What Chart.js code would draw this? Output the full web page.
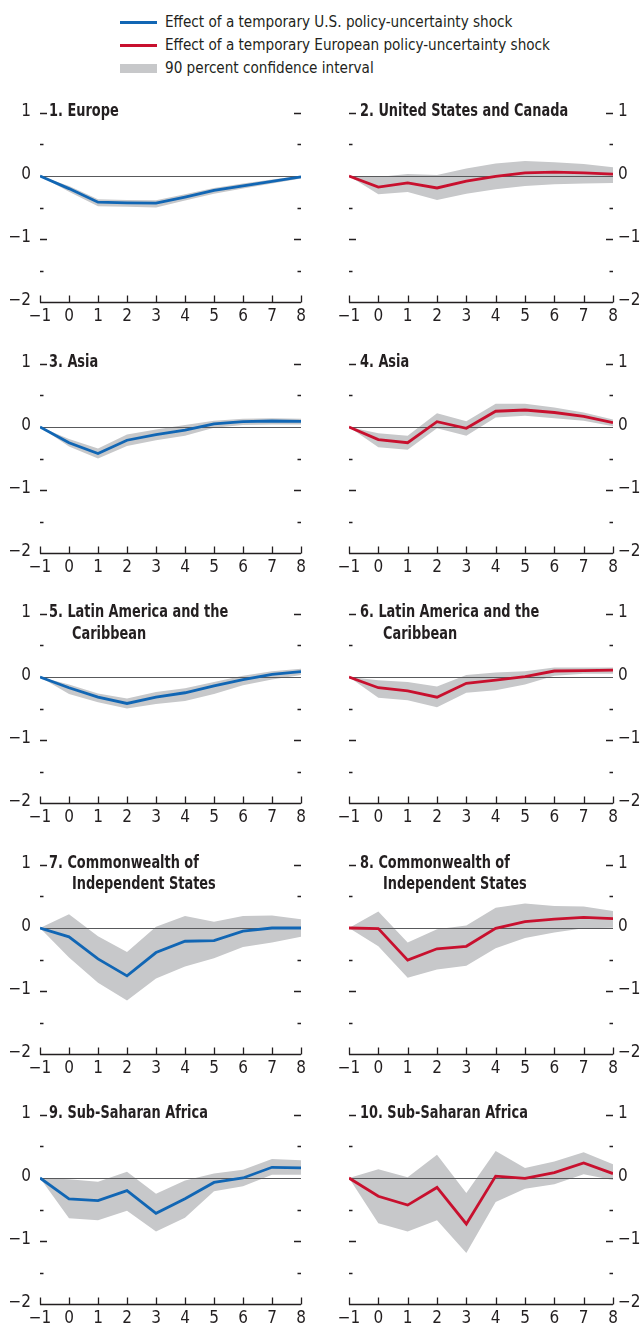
<!DOCTYPE html>
<html>
<head>
<meta charset="utf-8">
<script src="https://cdn.jsdelivr.net/npm/chart.js@4.4.1/dist/chart.umd.min.js"></script>
<style>
   body { margin:0; background:#fff; }
   #page { position:relative; width:641px; height:1330px; font-family:'DejaVu Sans Condensed','DejaVu Sans',sans-serif; color:#231f20; }
   canvas { position:absolute; }
   .leg { position:absolute; left:165px; font-size:16px; line-height:20px; white-space:nowrap; transform:scaleX(0.945); transform-origin:0 0; }
   .sw { position:absolute; left:120px; width:37px; }
   .ttl { position:absolute; font-weight:bold; font-size:17.5px; line-height:21.5px; white-space:nowrap; transform:scaleX(0.82); transform-origin:0 0; }
   .ttl .l2 { display:block; padding-left:28px; }
</style>
</head>
<body>
<div id="page">
   <div class="sw" style="top:21px;height:3px;background:#1166b4;"></div>
   <div class="leg" style="top:12px;">Effect of a temporary U.S. policy-uncertainty shock</div>
   <div class="sw" style="top:44px;height:3px;background:#c8102e;"></div>
   <div class="leg" style="top:35px;">Effect of a temporary European policy-uncertainty shock</div>
   <div class="sw" style="top:64px;height:9px;background:#c7c8ca;"></div>
   <div class="leg" style="top:58px;">90 percent confidence interval</div>
</div>
<script>
const horizons = [-1, 0, 1, 2, 3, 4, 5, 6, 7, 8];
const yTickLabels = [1, 0, -1, -2];

const titles = [
   ["1. Europe"], ["2. United States and Canada"],
   ["3. Asia"], ["4. Asia"],
   ["5. Latin America and the", "Caribbean"], ["6. Latin America and the", "Caribbean"],
   ["7. Commonwealth of", "Independent States"], ["8. Commonwealth of", "Independent States"],
   ["9. Sub-Saharan Africa"], ["10. Sub-Saharan Africa"]
];

// 1. Europe (U.S. shock)
const europeUS      = [0, -0.20, -0.415, -0.425, -0.43, -0.335, -0.23, -0.155, -0.085, -0.015];
const europeUSHi    = [0, -0.16, -0.37, -0.38, -0.385, -0.29, -0.19, -0.12, -0.055, 0.005];
const europeUSLo    = [0, -0.25, -0.48, -0.49, -0.50, -0.39, -0.28, -0.20, -0.12, -0.04];
// 2. United States and Canada (European shock)
const usCanEU       = [0, -0.175, -0.11, -0.19, -0.08, -0.005, 0.05, 0.06, 0.05, 0.03];
const usCanEUHi     = [0, -0.015, 0.03, 0.015, 0.12, 0.20, 0.24, 0.22, 0.19, 0.14];
const usCanEULo     = [0, -0.29, -0.255, -0.38, -0.28, -0.21, -0.16, -0.13, -0.12, -0.11];
// 3. Asia (U.S. shock)
const asiaUS        = [0, -0.25, -0.42, -0.21, -0.12, -0.05, 0.05, 0.085, 0.095, 0.09];
const asiaUSHi      = [0, -0.19, -0.34, -0.12, -0.04, 0.03, 0.10, 0.13, 0.14, 0.13];
const asiaUSLo      = [0, -0.31, -0.50, -0.30, -0.21, -0.14, -0.01, 0.03, 0.04, 0.04];
// 4. Asia (European shock)
const asiaEU        = [0, -0.20, -0.25, 0.085, -0.02, 0.25, 0.27, 0.23, 0.17, 0.07];
const asiaEUHi      = [0, -0.10, -0.14, 0.22, 0.09, 0.37, 0.37, 0.31, 0.23, 0.12];
const asiaEULo      = [0, -0.32, -0.36, -0.02, -0.14, 0.15, 0.18, 0.14, 0.10, 0.01];
// 5. Latin America and the Caribbean (U.S. shock)
const latamUS       = [0, -0.17, -0.32, -0.42, -0.32, -0.25, -0.14, -0.04, 0.04, 0.085];
const latamUSHi     = [0, -0.12, -0.26, -0.34, -0.24, -0.18, -0.08, 0.02, 0.09, 0.13];
const latamUSLo     = [0, -0.27, -0.40, -0.50, -0.43, -0.38, -0.27, -0.13, -0.04, 0.03];
// 6. Latin America and the Caribbean (European shock)
const latamEU       = [0, -0.17, -0.22, -0.32, -0.10, -0.05, 0.005, 0.095, 0.10, 0.11];
const latamEUHi     = [0, -0.05, -0.08, -0.15, 0.03, 0.07, 0.09, 0.15, 0.15, 0.15];
const latamEULo     = [0, -0.33, -0.37, -0.48, -0.25, -0.21, -0.12, 0.02, 0.05, 0.05];
// 7. Commonwealth of Independent States (U.S. shock)
const cisUS         = [0, -0.14, -0.49, -0.76, -0.39, -0.21, -0.20, -0.05, 0.00, 0.00];
const cisUSHi       = [0, 0.22, -0.13, -0.38, 0.02, 0.19, 0.10, 0.19, 0.20, 0.14];
const cisUSLo       = [0, -0.47, -0.87, -1.15, -0.80, -0.61, -0.48, -0.30, -0.23, -0.14];
// 8. Commonwealth of Independent States (European shock)
const cisEU         = [0, -0.01, -0.51, -0.33, -0.29, -0.005, 0.10, 0.14, 0.17, 0.15];
const cisEUHi       = [0, 0.26, -0.23, -0.02, 0.04, 0.32, 0.39, 0.35, 0.34, 0.27];
const cisEULo       = [0, -0.29, -0.79, -0.66, -0.60, -0.32, -0.16, -0.07, -0.005, 0.005];
// 9. Sub-Saharan Africa (U.S. shock)
const ssaUS         = [0, -0.33, -0.36, -0.20, -0.56, -0.33, -0.07, 0.00, 0.17, 0.16];
const ssaUSHi       = [0, -0.02, -0.06, 0.10, -0.25, -0.04, 0.07, 0.13, 0.30, 0.28];
const ssaUSLo       = [0, -0.64, -0.67, -0.52, -0.85, -0.63, -0.21, -0.13, 0.05, 0.05];
// 10. Sub-Saharan Africa (European shock)
const ssaEU         = [0, -0.29, -0.43, -0.15, -0.73, 0.03, -0.005, 0.085, 0.24, 0.07];
const ssaEUHi       = [0, 0.14, 0.01, 0.37, -0.24, 0.43, 0.16, 0.26, 0.41, 0.22];
const ssaEULo       = [0, -0.72, -0.85, -0.67, -1.19, -0.38, -0.17, -0.10, 0.06, -0.03];

const panels = [
   [europeUS, europeUSHi, europeUSLo], [usCanEU, usCanEUHi, usCanEULo],
   [asiaUS, asiaUSHi, asiaUSLo], [asiaEU, asiaEUHi, asiaEULo],
   [latamUS, latamUSHi, latamUSLo], [latamEU, latamEUHi, latamEULo],
   [cisUS, cisUSHi, cisUSLo], [cisEU, cisEUHi, cisEULo],
   [ssaUS, ssaUSHi, ssaUSLo], [ssaEU, ssaEUHi, ssaEULo]
];

const blue = '#1166b4', red = '#c8102e', band = '#c7c8ca', ink = '#231f20';
const fontFam = "'DejaVu Sans Condensed','DejaVu Sans',sans-serif";
const minus = v => v < 0 ? '\u2212' + Math.abs(v) : String(v);

// zero line under the line, axis + ticks + labels on top
const framePlugin = {
   id: 'frame',
   beforeDatasetDraw(chart, args) {
      if (args.index !== 2) return;
      const {ctx, chartArea: a, scales: {y}} = chart;
      const y0 = Math.round(y.getPixelForValue(0)) + 0.5;
      ctx.save();
      ctx.strokeStyle = '#58595b';
      ctx.lineWidth = 1.2;
      ctx.beginPath(); ctx.moveTo(a.left, y0); ctx.lineTo(a.right, y0); ctx.stroke();
      ctx.restore();
   },
   afterDraw(chart) {
      const {ctx, chartArea: a, scales: {x, y}} = chart;
      const side = chart.options.plugins.frame.side;
      ctx.save();
      ctx.strokeStyle = ink;
      ctx.fillStyle = ink;
      ctx.lineWidth = 1.3;
      // x axis line and upward ticks
      const yb = Math.round(y.getPixelForValue(-2)) + 0.5;
      ctx.beginPath(); ctx.moveTo(a.left, yb); ctx.lineTo(a.right, yb); ctx.stroke();
      ctx.beginPath();
      for (const h of horizons) {
         const px = Math.round(x.getPixelForValue(h)) + 0.5;
         ctx.moveTo(px, yb); ctx.lineTo(px, yb - 7);
      }
      ctx.stroke();
      // y ticks on both edges
      ctx.beginPath();
      for (const v of [1, 0.5, -0.5, -1, -1.5]) {
         const py = Math.round(y.getPixelForValue(v)) + 0.5;
         const len = Number.isInteger(v) ? 7 : 3.5;
         ctx.moveTo(a.left, py); ctx.lineTo(a.left + len, py);
         ctx.moveTo(a.right, py); ctx.lineTo(a.right - len, py);
      }
      ctx.stroke();
      // labels
      ctx.font = `17px ${fontFam}`;
      ctx.textBaseline = 'middle';
      for (const v of yTickLabels) {
         const py = y.getPixelForValue(v) - 1;
         if (side === 'left') { ctx.textAlign = 'right'; ctx.fillText(minus(v), a.left - 9, py); }
         else { ctx.textAlign = 'left'; ctx.fillText(minus(v), a.right + 5, py); }
      }
      ctx.textAlign = 'center';
      ctx.textBaseline = 'top';
      for (const h of horizons) ctx.fillText(minus(h), x.getPixelForValue(h), a.bottom + 6);
      ctx.restore();
   }
};

const page = document.getElementById('page');
const rowZero = [176, 426.5, 677, 927.5, 1178];

panels.forEach((p, i) => {
   const row = Math.floor(i / 2), left = i % 2 === 0;
   const zeroY = rowZero[row];
   const top = zeroY - 63 - 20;
   const canvas = document.createElement('canvas');
   canvas.width = left ? 320 : 321;
   canvas.height = 239;
   canvas.style.left = (left ? 0 : 320) + 'px';
   canvas.style.top = top + 'px';
   page.appendChild(canvas);

   const ttl = document.createElement('div');
   ttl.className = 'ttl';
   ttl.style.left = (left ? 49 : 360) + 'px';
   ttl.style.top = (zeroY - 76) + 'px';
   ttl.innerHTML = titles[i].map((t, k) => k ? `<span class="l2">${t}</span>` : t).join('');
   page.appendChild(ttl);

   const toPts = arr => arr.map((v, k) => ({x: horizons[k], y: v}));
   new Chart(canvas.getContext('2d'), {
      type: 'line',
      data: {
         datasets: [
            {data: toPts(p[1]), borderWidth: 0, pointRadius: 0, fill: '+1', backgroundColor: band, tension: 0, order: 2},
            {data: toPts(p[2]), borderWidth: 0, pointRadius: 0, fill: false, tension: 0, order: 2},
            {data: toPts(p[0]), borderColor: left ? blue : red, borderWidth: 2.8, pointRadius: 0, fill: false, tension: 0, order: 0}
         ]
      },
      options: {
         responsive: false,
         animation: false,
         devicePixelRatio: 1,
         layout: {padding: left ? {left: 40, right: 19, top: 20, bottom: 30} : {left: 29, right: 28, top: 20, bottom: 30}},
         scales: {
            x: {type: 'linear', min: -1, max: 8, display: false},
            y: {type: 'linear', min: -2, max: 1, display: false}
         },
         plugins: {legend: {display: false}, tooltip: {enabled: false}, frame: {side: left ? 'left' : 'right'}}
      },
      plugins: [framePlugin]
   });
});
</script>
</body>
</html>
